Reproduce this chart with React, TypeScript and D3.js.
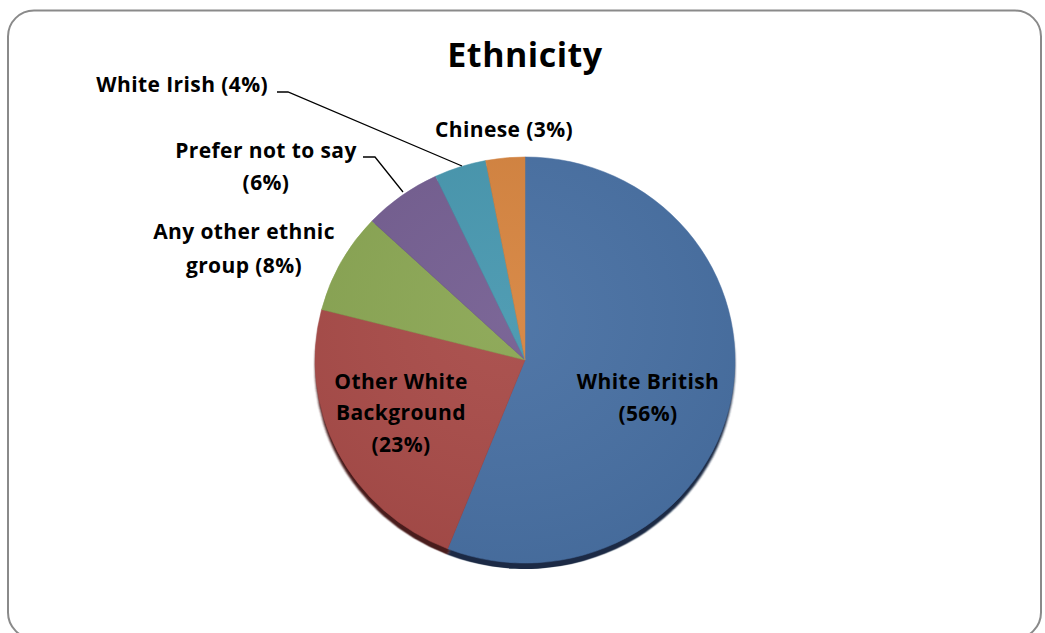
import React from "react";
import * as d3 from "d3";

const categories = ["White British", "Other White Background", "Any other ethnic group", "Prefer not to say", "White Irish", "Chinese"];
const values = [56, 23, 8, 6, 4, 3];
const colors = ["#4870A3", "#A84B48", "#8AA653", "#745E91", "#4797AF", "#D6843F"];
const shadowColors = ["#1C2C45", "#4A1F1E", "#3C4A22", "#33283F", "#1F414C", "#5E391A"];

const W = 1045;
const H = 633;
const cx = 525;
const cy = 360;
const R = 210;
const yScale = 0.967;

export default function App() {
  const pie = d3.pie<number>().sort(null).value((d) => d)(values);
  const arc = d3.arc<d3.PieArcDatum<number>>().innerRadius(0).outerRadius(R);
  const font = "'Open Sans', Lato, sans-serif";

  const textStyle: React.CSSProperties = { fontFamily: font, fontWeight: 700, fontSize: 21, letterSpacing: 0.4, fill: "#000" };

  return (
    <svg width={W} height={H} style={{ position: "absolute", left: 0, top: 0, background: "#fff" }}>
      <defs>
        <filter id="blur" x="-10%" y="-10%" width="120%" height="120%">
          <feGaussianBlur stdDeviation="0.8" />
        </filter>
        <radialGradient id="shade" cx="0.45" cy="0.4" r="0.7">
          <stop offset="0" stopColor="#fff" stopOpacity="0.05" />
          <stop offset="1" stopColor="#000" stopOpacity="0.06" />
        </radialGradient>
      </defs>
      <rect x={8} y={10.5} width={1033} height={628} rx={26} ry={26} fill="#fff" stroke="#8a8a8a" strokeWidth={2} />

      <text x={525} y={67} textAnchor="middle" style={{ fontFamily: font, fontWeight: 700, fontSize: 34, letterSpacing: 0.5, fill: "#000" }}>
        Ethnicity
      </text>

      {/* shadow / depth */}
      <g transform={`translate(${cx},${cy + 6}) scale(1,${yScale})`} filter="url(#blur)">
        {pie.map((p, i) => (
          <path key={"s" + i} d={arc(p) || ""} fill={shadowColors[i]} />
        ))}
      </g>
      <g transform={`translate(${cx},${cy}) scale(1,${yScale})`}>
        {pie.map((p, i) => (
          <path key={"p" + i} d={arc(p) || ""} fill={colors[i]} stroke={colors[i]} strokeWidth={0.5} />
        ))}
        <circle r={R} fill="url(#shade)" />
      </g>

      {/* inside labels */}
      <text textAnchor="middle" style={textStyle}>
        <tspan x={648} y={389}>White British</tspan>
        <tspan x={648} y={421}>({values[0]}%)</tspan>
      </text>
      <text textAnchor="middle" style={textStyle}>
        <tspan x={401} y={389}>Other White</tspan>
        <tspan x={401} y={420}>Background</tspan>
        <tspan x={401} y={452}>({values[1]}%)</tspan>
      </text>

      {/* outside labels */}
      <text textAnchor="middle" style={textStyle}>
        <tspan x={244} y={239}>Any other ethnic</tspan>
        <tspan x={244} y={273}>group ({values[2]}%)</tspan>
      </text>
      <text textAnchor="middle" style={textStyle}>
        <tspan x={266} y={158}>Prefer not to say</tspan>
        <tspan x={266} y={190}>({values[3]}%)</tspan>
      </text>
      <text textAnchor="end" x={268} y={92} style={textStyle}>
        White Irish ({values[4]}%)
      </text>
      <text textAnchor="middle" x={504} y={137} style={textStyle}>
        Chinese ({values[5]}%)
      </text>

      {/* leader lines */}
      <polyline points="363,157 375,157 403,192" fill="none" stroke="#000" strokeWidth={1.3} />
      <polyline points="277,92 288,92 462,166" fill="none" stroke="#000" strokeWidth={1.3} />
    </svg>
  );
}
